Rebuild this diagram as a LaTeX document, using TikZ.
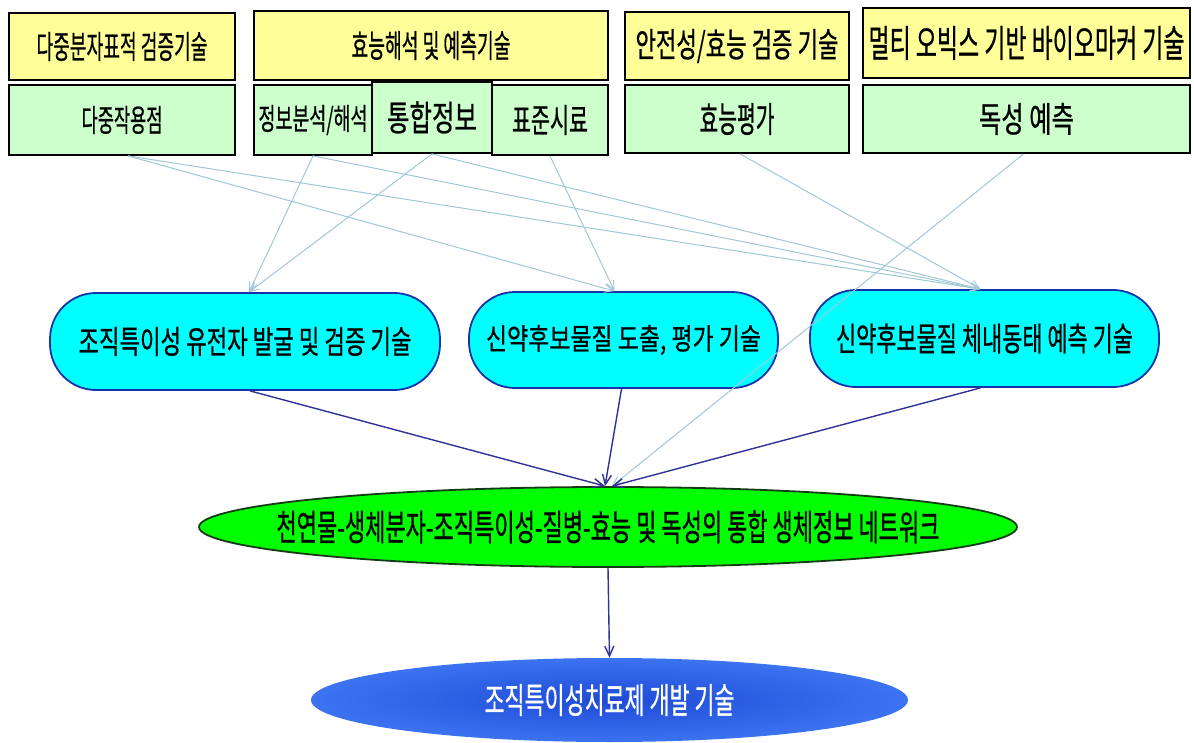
\documentclass[tikz,border=0pt]{standalone}
\usepackage{fontspec}
\usepackage{graphicx}
\newfontfamily\kr[FakeBold=0.8]{Noto Sans CJK KR}
\usetikzlibrary{arrows.meta,shapes.geometric}
\definecolor{yfill}{RGB}{255,255,153}
\definecolor{gfill}{RGB}{204,255,204}
\definecolor{cfill}{RGB}{0,255,255}
\definecolor{cline}{RGB}{20,50,170}
\definecolor{gnet}{RGB}{0,255,0}
\definecolor{gnetline}{RGB}{20,60,20}
\definecolor{binner}{RGB}{30,75,215}
\definecolor{bouter}{RGB}{60,115,240}
\definecolor{lite}{RGB}{160,200,215}
\definecolor{navy}{RGB}{50,50,150}
\newcommand{\kt}[3]{\resizebox*{#1pt}{#2pt}{\kr #3}}
\begin{document}
\begin{tikzpicture}[x=1pt,y=-1pt,
  ybox/.style={draw=black,line width=1.8pt,fill=yfill,inner sep=0pt,rectangle},
  gbox/.style={draw=black,line width=1.8pt,fill=gfill,inner sep=0pt,rectangle},
  pill/.style={draw=cline,line width=1.8pt,fill=cfill,rounded corners=46pt,inner sep=0pt,rectangle},
  oval/.style={ellipse,inner sep=0pt,label={[inner sep=0pt]center:#1}},
  litearrow/.style={draw=lite,line width=1pt,-{Straight Barb[length=9pt,width=8pt]}},
  darkarrow/.style={draw=navy,line width=1.4pt,-{Straight Barb[length=10pt,width=9pt]}},
]
\useasboundingbox (0,0) rectangle (1194,743);
\fill[white] (0,0) rectangle (1194,743);

% top row
\node[ybox,minimum width=226pt,minimum height=67pt] (y1) at (122,46.5) {\kt{171}{29}{다중분자표적 검증기술}};
\node[ybox,minimum width=354pt,minimum height=69pt] (y2) at (431,45.5) {\kt{159}{29}{효능해석 및 예측기술}};
\node[ybox,minimum width=224pt,minimum height=68pt] (y3) at (737,46) {\kt{203}{34}{안전성/효능 검증 기술}};
\node[ybox,minimum width=327pt,minimum height=70pt] (y4) at (1026.5,43) {\kt{316}{34}{멀티 오빅스 기반 바이오마커 기술}};

% second row
\node[gbox,minimum width=226pt,minimum height=70pt] (g1) at (122,120) {\kt{81}{28}{다중작용점}};
\node[gbox,minimum width=118pt,minimum height=70pt] (g2) at (313,120) {\kt{109}{30}{정보분석/해석}};
\node[gbox,minimum width=116pt,minimum height=70pt] (g4) at (550,120) {\kt{76}{30}{표준시료}};
\node[gbox,minimum width=120pt,minimum height=71pt] (g3) at (432,117.5) {\kt{90}{32}{통합정보}};
\node[gbox,minimum width=224pt,minimum height=68pt] (g5) at (737,119) {\kt{75}{32}{효능평가}};
\node[gbox,minimum width=327pt,minimum height=68pt] (g6) at (1026.5,119) {\kt{95}{32}{독성 예측}};

% pills
\node[pill,minimum width=390pt,minimum height=97pt] (n1) at (245,341.5) {\kt{333}{29}{조직특이성 유전자 발굴 및 검증 기술}};
\node[pill,minimum width=309pt,minimum height=96pt] (n2) at (623.5,340) {\kt{275}{30}{신약후보물질 도출, 평가 기술}};
\node[pill,minimum width=349pt,minimum height=97pt] (n3) at (984.5,338.5) {\kt{297}{30}{신약후보물질 체내동태 예측 기술}};

% ellipses
\node[oval={\kt{663}{33}{천연물-생체분자-조직특이성-질병-효능 및 독성의 통합 생체정보 네트워크}},draw=gnetline,line width=1.8pt,fill=gnet,minimum width=818pt,minimum height=80pt] (ge) at (608,527) {};
\node[oval={\color{white}\kt{250}{32}{조직특이성치료제 개발 기술}},shading=radial,inner color=binner,outer color=bouter,minimum width=597pt,minimum height=84pt] (be) at (609.5,700) {};

% light connectors
\draw[litearrow] ([xshift=6pt]g1.south) -- ([xshift=-9pt]n2.north);
\draw[litearrow] ([xshift=6pt]g1.south) -- ([xshift=-4pt]n3.north);
\draw[litearrow] (g2.south) -- ([xshift=4pt]n1.north);
\draw[litearrow] (g2.south) -- ([xshift=-4pt]n3.north);
\draw[litearrow] (g3.south) -- ([xshift=4pt]n1.north);
\draw[litearrow] (g3.south) -- ([xshift=-4pt]n3.north);
\draw[litearrow] (g4.south) -- ([xshift=-9pt]n2.north);
\draw[litearrow] ([xshift=3pt]g5.south) -- ([xshift=-4pt]n3.north);
\draw[litearrow] ([xshift=-3pt]g6.south) -- ([xshift=4pt]ge.north);

% dark connectors
\draw[darkarrow] ([xshift=5pt]n1.south) -- ([xshift=-3pt]ge.north);
\draw[darkarrow] ([xshift=-2pt]n2.south) -- ([xshift=-3pt]ge.north);
\draw[darkarrow] ([xshift=-4pt]n3.south) -- ([xshift=4pt]ge.north);
\draw[darkarrow] (ge.south) -- (be.north);
\end{tikzpicture}
\end{document}
